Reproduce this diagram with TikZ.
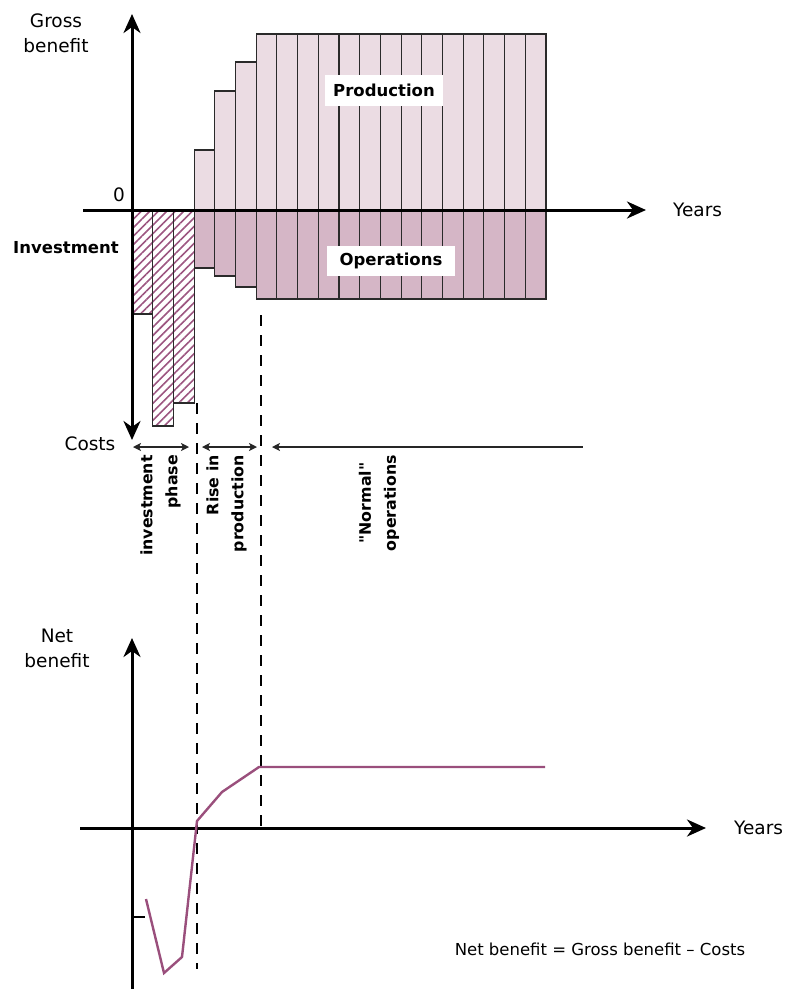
\documentclass[tikz,border=0pt]{standalone}
\usepackage{fontspec}
\setmainfont{DejaVu Sans}[Ligatures=TeXOff]
\usetikzlibrary{arrows.meta,patterns.meta}
\definecolor{prodfill}{HTML}{EBDCE3}
\definecolor{operfill}{HTML}{D5B6C6}
\definecolor{hatchcol}{HTML}{9C5580}
\definecolor{curvecol}{HTML}{9A4F7C}
\definecolor{barline}{HTML}{2A2A2A}
\tikzset{phasetip/.tip={Stealth[length=8pt,width=8pt,inset=2pt]}}
\begin{document}
\begin{tikzpicture}[x=1pt,y=-1pt,
  prodbar/.style={draw=barline,line width=1.1pt,fill=prodfill},
  operbar/.style={draw=barline,line width=1.1pt,fill=operfill},
  hatchbar/.style={draw=barline,line width=1.1pt,pattern={Lines[angle=45,distance=6pt,line width=1.6pt]},pattern color=hatchcol},
  axis/.style={line width=3pt,-{Stealth[length=19pt,width=17pt,inset=6pt]}},
  phasearrow/.style={line width=1.2pt,draw=black!85},
  divider/.style={line width=2.6pt,dash pattern=on 11pt off 9pt},
  netcurve/.style={line width=2.4pt,draw=curvecol,line join=miter},
  lbl/.style={font=\fontsize{18.5}{25}\selectfont,inner sep=0pt,align=center},
  boldlbl/.style={font=\fontsize{16.5}{20}\selectfont\bfseries,inner sep=0pt},
  rotlbl/.style={font=\fontsize{15.8}{25}\selectfont\bfseries,inner sep=0pt,rotate=90,anchor=east},
  whitebox/.style={fill=white,font=\fontsize{16.5}{20}\selectfont\bfseries,inner sep=0pt}
]
\useasboundingbox (0,0) rectangle (787,989);
\def\cw{20.7}
% ---------- investment bars (hatched) ----------
\foreach \i/\b in {0/314,1/426,2/403}
  \draw[hatchbar] ({132+\i*\cw},210) rectangle ({132+(\i+1)*\cw},\b);
% ---------- production bars ----------
\foreach \i/\t in {3/150,4/91,5/62}
  \draw[prodbar] ({132+\i*\cw},210) rectangle ({132+(\i+1)*\cw},\t);
\foreach \i in {6,...,19}
  \draw[prodbar] ({132+\i*\cw},210) rectangle ({132+(\i+1)*\cw},34);
% ---------- operations bars ----------
\foreach \i/\b in {3/268,4/276,5/287}
  \draw[operbar] ({132+\i*\cw},210) rectangle ({132+(\i+1)*\cw},\b);
\foreach \i in {6,...,19}
  \draw[operbar] ({132+\i*\cw},210) rectangle ({132+(\i+1)*\cw},299);
% ---------- labels in bars ----------
\node[whitebox,minimum width=118pt,minimum height=31pt] (prod) at (384,90) {Production};
\node[whitebox,minimum width=128pt,minimum height=30pt] (oper) at (391,261) {Operations};
% ---------- top axes ----------
\coordinate (ttop) at (132,14);
\coordinate (tbot) at (132,440);
\coordinate (tleft) at (83,210);
\coordinate (tright) at (646,210);
\coordinate (origin) at (132,210);
\draw[axis] (origin) -- (ttop);
\draw[axis] (origin) -- (tbot);
\draw[axis] (tleft) -- (tright);
\node[lbl] (gross) at (56,33) {Gross\\benefit};
\node[lbl] (zero) at (119,195) {0};
\node[lbl,anchor=west] (years1) at (673,210) {Years};
\node[boldlbl] (invest) at (66,248) {Investment};
\node[lbl] (costs) at (90,444) {Costs};
% ---------- dashed dividers ----------
\coordinate (d1a) at (197,403);
\coordinate (d1b) at (197,969);
\coordinate (d2a) at (261,315);
\coordinate (d2b) at (261,828);
\draw[divider] (d1a) -- (d1b);
\draw[divider] (d2a) -- (d2b);
% ---------- phase arrows ----------
\coordinate (p1a) at (133,447);
\coordinate (p1b) at (189,447);
\coordinate (p2a) at (202,447);
\coordinate (p2b) at (257,447);
\coordinate (p3a) at (272,447);
\coordinate (p3b) at (583,447);
\draw[phasearrow,{phasetip}-{phasetip}] (p1a) -- (p1b);
\draw[phasearrow,{phasetip}-{phasetip}] (p2a) -- (p2b);
\draw[phasearrow,{phasetip}-] (p3a) -- (p3b);
\node[rotlbl,align=right] (ph1) at (160.5,455) {investment\\phase};
\node[rotlbl,align=right] (ph2) at (226.5,455) {Rise in\\production};
\node[rotlbl,align=center] (ph3) at (379,455) {"Normal"\\operations};
% ---------- bottom chart ----------
\coordinate (btop) at (132,638);
\coordinate (bbot) at (132,989);
\coordinate (bleft) at (80,828);
\coordinate (bright) at (706,828);
\draw[axis] (bbot) -- (btop);
\draw[axis] (bleft) -- (bright);
\node[lbl] (net) at (57,648) {Net\\benefit};
\node[lbl,anchor=west] (years2) at (734,828) {Years};
\coordinate (tick) at (145,917);
\draw[line width=1.1pt] (132,917) -- (tick);
\coordinate (c1) at (146,899);
\coordinate (c2) at (164,973);
\coordinate (c3) at (182,957);
\coordinate (c4) at (197,821);
\coordinate (c5) at (222,792);
\coordinate (c6) at (259,767);
\coordinate (c7) at (545,767);
\draw[netcurve] (c1) -- (c2) -- (c3) -- (c4) -- (c5) -- (c6) -- (c7);
\node[lbl,font=\fontsize{16.5}{20}\selectfont] (formula) at (600,949) {Net benefit = Gross benefit – Costs};
\end{tikzpicture}
\end{document}
